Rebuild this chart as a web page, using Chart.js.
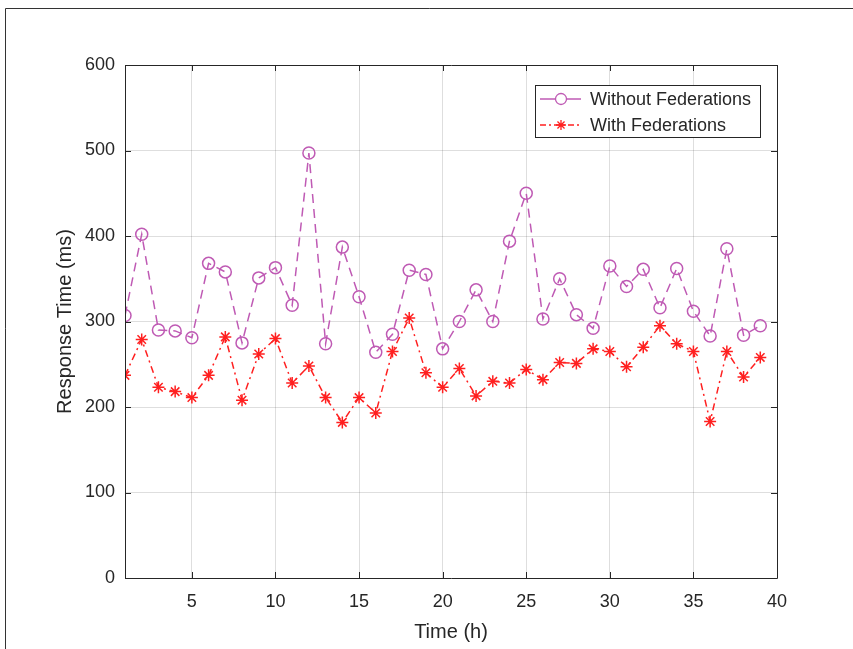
<!DOCTYPE html>
<html>
<head>
<meta charset="utf-8">
<script src="https://cdn.jsdelivr.net/npm/chart.js@4.4.0/dist/chart.umd.min.js"></script>
<style>
  html, body { margin: 0; padding: 0; background: #fff; }
  #wrap { position: absolute; left: 0; top: 0; width: 853px; height: 649px; }
</style>
</head>
<body>
<div id="wrap"><canvas id="lineChart" width="853" height="649"></canvas></div>
<script>
// hours 1..39
const hours = [1,2,3,4,5,6,7,8,9,10,11,12,13,14,15,16,17,18,19,20,21,22,23,24,25,26,27,28,29,30,31,32,33,34,35,36,37,38,39];
const withoutFed = [307,402,290,289,281,368,358,275,351,363,319,497,274,387,329,264,285,360,355,268,300,337,300,394,450,303,350,308,292,365,341,361,316,362,312,283,385,284,295];
const withFed = [237,279,223,218,211,237,282,208,262,280,228,248,211,182,211,193,265,304,240,223,245,213,230,228,244,232,252,251,268,265,247,270,295,274,265,183,265,235,258];
const xTicks = [5,10,15,20,25,30,35,40];
const yTicks = [0,100,200,300,400,500,600];

const purple = 'rgb(191,90,180)';
const red = 'rgb(255,32,32)';
const axisColor = '#262626';
const font = '"Liberation Sans", Arial, sans-serif';

const toPoints = (ys) => hours.map((h, i) => ({ x: h, y: ys[i] }));

// MATLAB look: outer frame, box around axes, inward ticks, legend inside
const matlabPlugin = {
    id: 'matlab',
    afterDraw(chart) {
        const c = chart.ctx;
        const a = chart.chartArea;
        const xs = chart.scales.x, ys = chart.scales.y;
        c.save();
        // figure frame (top and left edges)
        c.strokeStyle = '#333';
        c.lineWidth = 1;
        c.beginPath();
        c.moveTo(5.5, 649); c.lineTo(5.5, 8.5); c.lineTo(853, 8.5);
        c.stroke();

        // axes box
        c.strokeStyle = axisColor;
        c.beginPath();
        c.rect(Math.round(a.left) + 0.5, Math.round(a.top) + 0.5, Math.round(a.right - a.left), Math.round(a.bottom - a.top));
        c.stroke();

        // inward ticks
        c.beginPath();
        xTicks.forEach(v => {
            const px = Math.round(xs.getPixelForValue(v)) + 0.5;
            c.moveTo(px, a.bottom); c.lineTo(px, a.bottom - 6);
            c.moveTo(px, a.top); c.lineTo(px, a.top + 6);
        });
        yTicks.forEach(v => {
            const py = Math.round(ys.getPixelForValue(v)) + 0.5;
            c.moveTo(a.left, py); c.lineTo(a.left + 6, py);
            c.moveTo(a.right, py); c.lineTo(a.right - 6, py);
        });
        c.stroke();

        // legend
        const lx = 535, ly = 85, lw = 225, lh = 52;
        c.fillStyle = '#fff';
        c.fillRect(lx, ly, lw, lh);
        c.strokeStyle = axisColor;
        c.strokeRect(lx + 0.5, ly + 0.5, lw, lh);
        const rows = [
            { label: 'Without Federations', color: purple, dash: [], marker: 'circle' },
            { label: 'With Federations', color: red, dash: [6, 3, 2, 3], marker: 'star' }
        ];
        rows.forEach((r, i) => {
            const yy = ly + 14 + i * 26;
            c.strokeStyle = r.color;
            c.lineWidth = 1.3;
            c.setLineDash(r.dash);
            c.beginPath(); c.moveTo(lx + 5, yy); c.lineTo(lx + 46, yy); c.stroke();
            c.setLineDash([]);
            Chart.helpers.drawPoint(c, { pointStyle: r.marker, radius: r.marker === 'circle' ? 5.5 : 5, borderWidth: 1.3 }, lx + 26, yy);
            c.fillStyle = axisColor;
            c.font = '18px ' + font;
            c.textBaseline = 'middle';
            c.fillText(r.label, lx + 55, yy + 1);
        });
        c.restore();
    }
};

const ctx = document.getElementById('lineChart').getContext('2d');
new Chart(ctx, {
    type: 'line',
    data: {
        datasets: [{
            label: 'Without Federations',
            data: toPoints(withoutFed),
            borderColor: purple,
            backgroundColor: 'rgba(0,0,0,0)',
            borderWidth: 1.5,
            borderDash: [9, 6],
            pointStyle: 'circle',
            pointRadius: 6,
            pointBorderWidth: 1.5,
            pointBorderColor: purple,
            pointBackgroundColor: 'rgba(0,0,0,0)',
            tension: 0
        }, {
            label: 'With Federations',
            data: toPoints(withFed),
            borderColor: red,
            backgroundColor: red,
            borderWidth: 1.5,
            borderDash: [7, 4, 2, 4],
            pointStyle: 'star',
            pointRadius: 6,
            pointBorderWidth: 1.5,
            pointBorderColor: red,
            tension: 0
        }]
    },
    options: {
        responsive: false,
        animation: false,
        layout: { padding: { left: 0, top: 65, right: 76, bottom: 0 } },
        plugins: {
            legend: { display: false },
            tooltip: { enabled: false }
        },
        scales: {
            x: {
                type: 'linear',
                min: 1,
                max: 40,
                afterBuildTicks: (s) => { s.ticks = xTicks.map(v => ({ value: v })); },
                afterFit: (s) => { s.height = 71; },
                grid: { color: 'rgba(0,0,0,0.13)', drawTicks: false },
                border: { display: false },
                ticks: { color: axisColor, padding: 13, font: { family: font, size: 18 } },
                title: { display: true, text: 'Time (h)', color: axisColor, padding: { top: 4, bottom: 5 }, font: { family: font, size: 20 } }
            },
            y: {
                min: 0,
                max: 600,
                afterBuildTicks: (s) => { s.ticks = yTicks.map(v => ({ value: v })); },
                afterFit: (s) => { s.width = 125; },
                grid: { color: 'rgba(0,0,0,0.13)', drawTicks: false },
                border: { display: false },
                ticks: { color: axisColor, padding: 10, font: { family: font, size: 18 } },
                title: { display: true, text: 'Response Time (ms)', color: axisColor, padding: { top: 53, bottom: 0 }, font: { family: font, size: 20 } }
            }
        }
    },
    plugins: [matlabPlugin]
});
</script>
</body>
</html>
